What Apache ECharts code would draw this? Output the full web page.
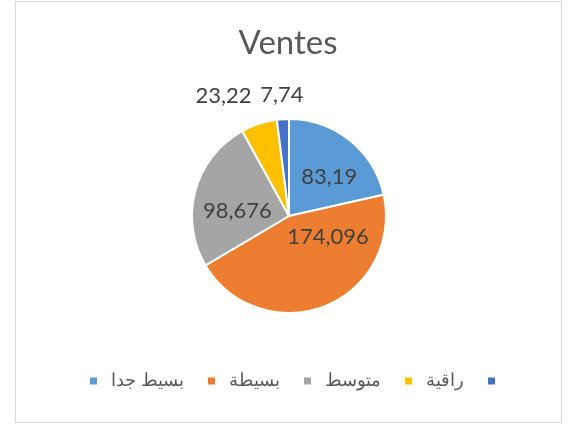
<!DOCTYPE html>
<html>
<head>
<meta charset="utf-8">
<script src="https://cdn.jsdelivr.net/npm/echarts@6/dist/echarts.min.js"></script>
<style>
  html, body { margin: 0; padding: 0; background: #fff; }
  #frame {
    position: absolute; left: 15px; top: 1px; width: 547px; height: 422px;
    border: 1px solid #d9d9d9; box-sizing: border-box;
  }
  #chart { position: absolute; left: 0; top: 0; width: 574px; height: 426px; }
</style>
</head>
<body>
<div id="frame"></div>
<div id="chart"></div>
<script>
// slice names (Arabic, as in the source sheet) and values
// the last slice has no name in the sheet, a single space keeps its legend entry
const categories = ["بسيط جدا", "بسيطة", "متوسط", "راقية", " "];
const values = [83.19, 174.096, 98.676, 23.22, 7.74];
const colors = ["#5b9bd5", "#ed7d31", "#a5a5a5", "#ffc000", "#4472c4"];

// Excel "best fit" puts labels a bit off the ECharts defaults, nudge them
const labelTweak = {
  0: { offset: [8, 1] },
  1: { offset: [20, -27] },
  2: { offset: [-2, 8] },
  3: { position: "outside", offset: [0, -20] },
  4: { position: "outside", offset: [26, -16] },
};

function fmt(v) {
  return String(v).replace(".", ",");
}

const chart = echarts.init(document.getElementById("chart"));

const data = values.map((v, i) => {
  const item = { name: categories[i], value: v, itemStyle: { color: colors[i] } };
  item.label = Object.assign({}, labelTweak[i]);
  if (labelTweak[i].position === "outside") {
    item.labelLine = { show: false, length: 8, length2: 0 };
  }
  return item;
});

chart.setOption({
  animation: false,
  title: {
    text: "Ventes",
    left: 283,
    textAlign: "center",
    top: 22,
    textStyle: { color: "#595959", fontSize: 33, fontWeight: "normal", fontFamily: "Lato" },
  },
  legend: {
    bottom: 31,
    left: 83,
    itemWidth: 9,
    itemHeight: 9,
    itemGap: 22,
    icon: "rect",
    textStyle: { color: "#595959", fontSize: 18, padding: [0, 0, 0, 8] },
    data: categories.map((c) => ({ name: c })),
  },
  series: [
    {
      type: "pie",
      center: [289, 216],
      radius: [0, 97],
      startAngle: 90,
      clockwise: true,
      avoidLabelOverlap: false,
      labelLayout: { hideOverlap: false },
      itemStyle: { borderColor: "#fff", borderWidth: 2 },
      label: {
        show: true,
        position: "inside",
        color: "#404040",
        fontSize: 22,
        fontFamily: "Lato",
        formatter: (p) => fmt(p.value),
      },
      emphasis: { disabled: true },
      data: data,
    },
  ],
});
</script>
</body>
</html>
